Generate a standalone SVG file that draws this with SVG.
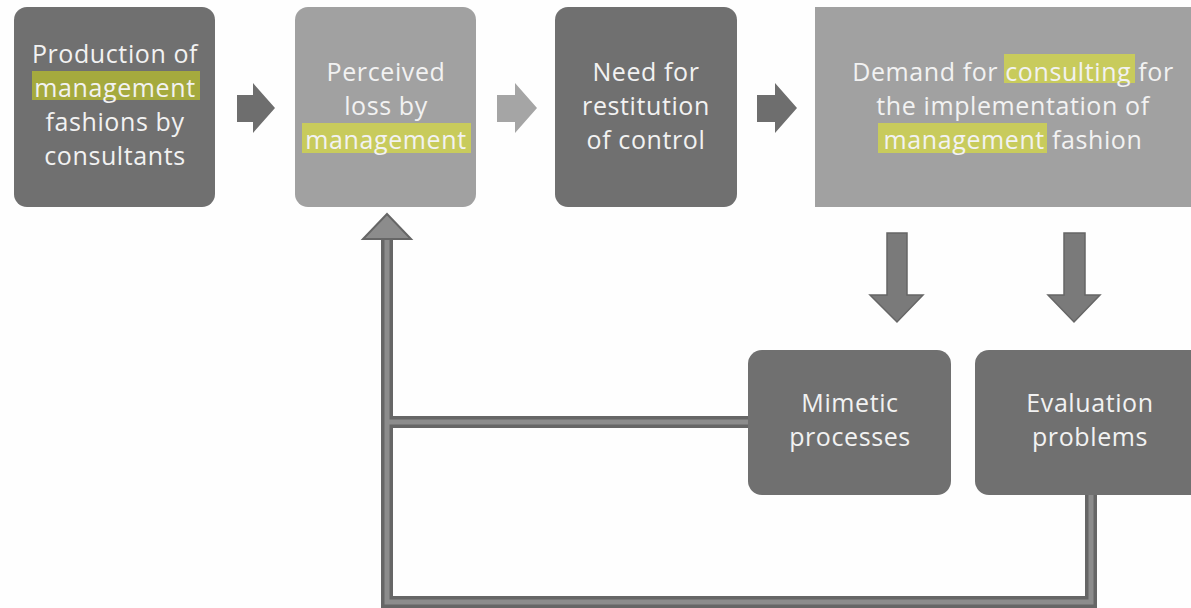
<svg xmlns="http://www.w3.org/2000/svg" width="1191" height="608" viewBox="0 0 1191 608">
<style>
.t{font-family:"Open Sans","Noto Sans","Liberation Sans",sans-serif;font-size:25px;fill:#f2f2f2;text-anchor:middle;letter-spacing:0.6px}
.dark{fill:#707070}
.light{fill:#a1a1a1}
.hl1{fill:#a5aa3e}
.hl2{fill:#c8cb5c}
.outer{fill:none;stroke:#666;stroke-width:12}
.inner{fill:none;stroke:#8c8c8c;stroke-width:5}
</style>
<rect width="1191" height="608" fill="#fefefe"/>
<g id="n1">
<rect class="dark" x="14" y="7" width="201" height="200" rx="13"/>
<rect class="hl1" x="32" y="71" width="168" height="29"/>
<text class="t" x="115" y="63">Production of</text>
<text class="t" x="115" y="97">management</text>
<text class="t" x="115" y="131">fashions by</text>
<text class="t" x="115" y="165">consultants</text>
</g>
<g id="n2">
<rect class="light" x="295" y="7" width="181" height="200" rx="13"/>
<rect class="hl2" x="302" y="123" width="169" height="30"/>
<text class="t" x="386" y="81">Perceived</text>
<text class="t" x="386" y="115">loss by</text>
<text class="t" x="386" y="149">management</text>
</g>
<g id="n3">
<rect class="dark" x="555" y="7" width="182" height="200" rx="13"/>
<text class="t" x="646" y="81">Need for</text>
<text class="t" x="646" y="115">restitution</text>
<text class="t" x="646" y="149">of control</text>
</g>
<g id="n4">
<rect class="light" x="815" y="7" width="380" height="200"/>
<rect class="hl2" x="1004" y="54" width="131" height="29"/>
<rect class="hl2" x="878" y="123" width="169" height="30"/>
<text class="t" x="1013" y="81">Demand for consulting for</text>
<text class="t" x="1013" y="115">the implementation of</text>
<text class="t" x="1013" y="149">management fashion</text>
</g>
<g id="n5">
<rect class="dark" x="748" y="350" width="203" height="145" rx="14"/>
<text class="t" x="850" y="412">Mimetic</text>
<text class="t" x="850" y="446">processes</text>
</g>
<g id="n6">
<rect class="dark" x="975" y="350" width="230" height="145" rx="14"/>
<text class="t" x="1090" y="412">Evaluation</text>
<text class="t" x="1090" y="446">problems</text>
</g>
<g id="connectors">
<polygon fill="#6e6e6e" points="237,95 253,95 253,83 275,108 253,133 253,122 237,122"/>
<polygon fill="#a5a5a5" points="497,95 515,95 515,83 537,108 515,133 515,122 497,122"/>
<polygon fill="#6e6e6e" points="757,95 775,95 775,83 797,108 775,133 775,122 757,122"/>
<polygon fill="#7a7a7a" stroke="#666" stroke-width="1.5" points="887,233 907,233 907,295 923,295 897,322 870,295 887,295"/>
<polygon fill="#7a7a7a" stroke="#666" stroke-width="1.5" points="1064,233 1085,233 1085,295 1100,295 1074,322 1048,295 1064,295"/>
<path class="outer" d="M1091,495 V602 H387 V236"/>
<path class="outer" d="M748,422 H387"/>
<path class="inner" d="M1091,495 V602 H387 V236"/>
<path class="inner" d="M748,422 H387"/>
<polygon fill="#8c8c8c" stroke="#666" stroke-width="2" points="387,214 411,239 363,239"/>
</g>
</svg>
